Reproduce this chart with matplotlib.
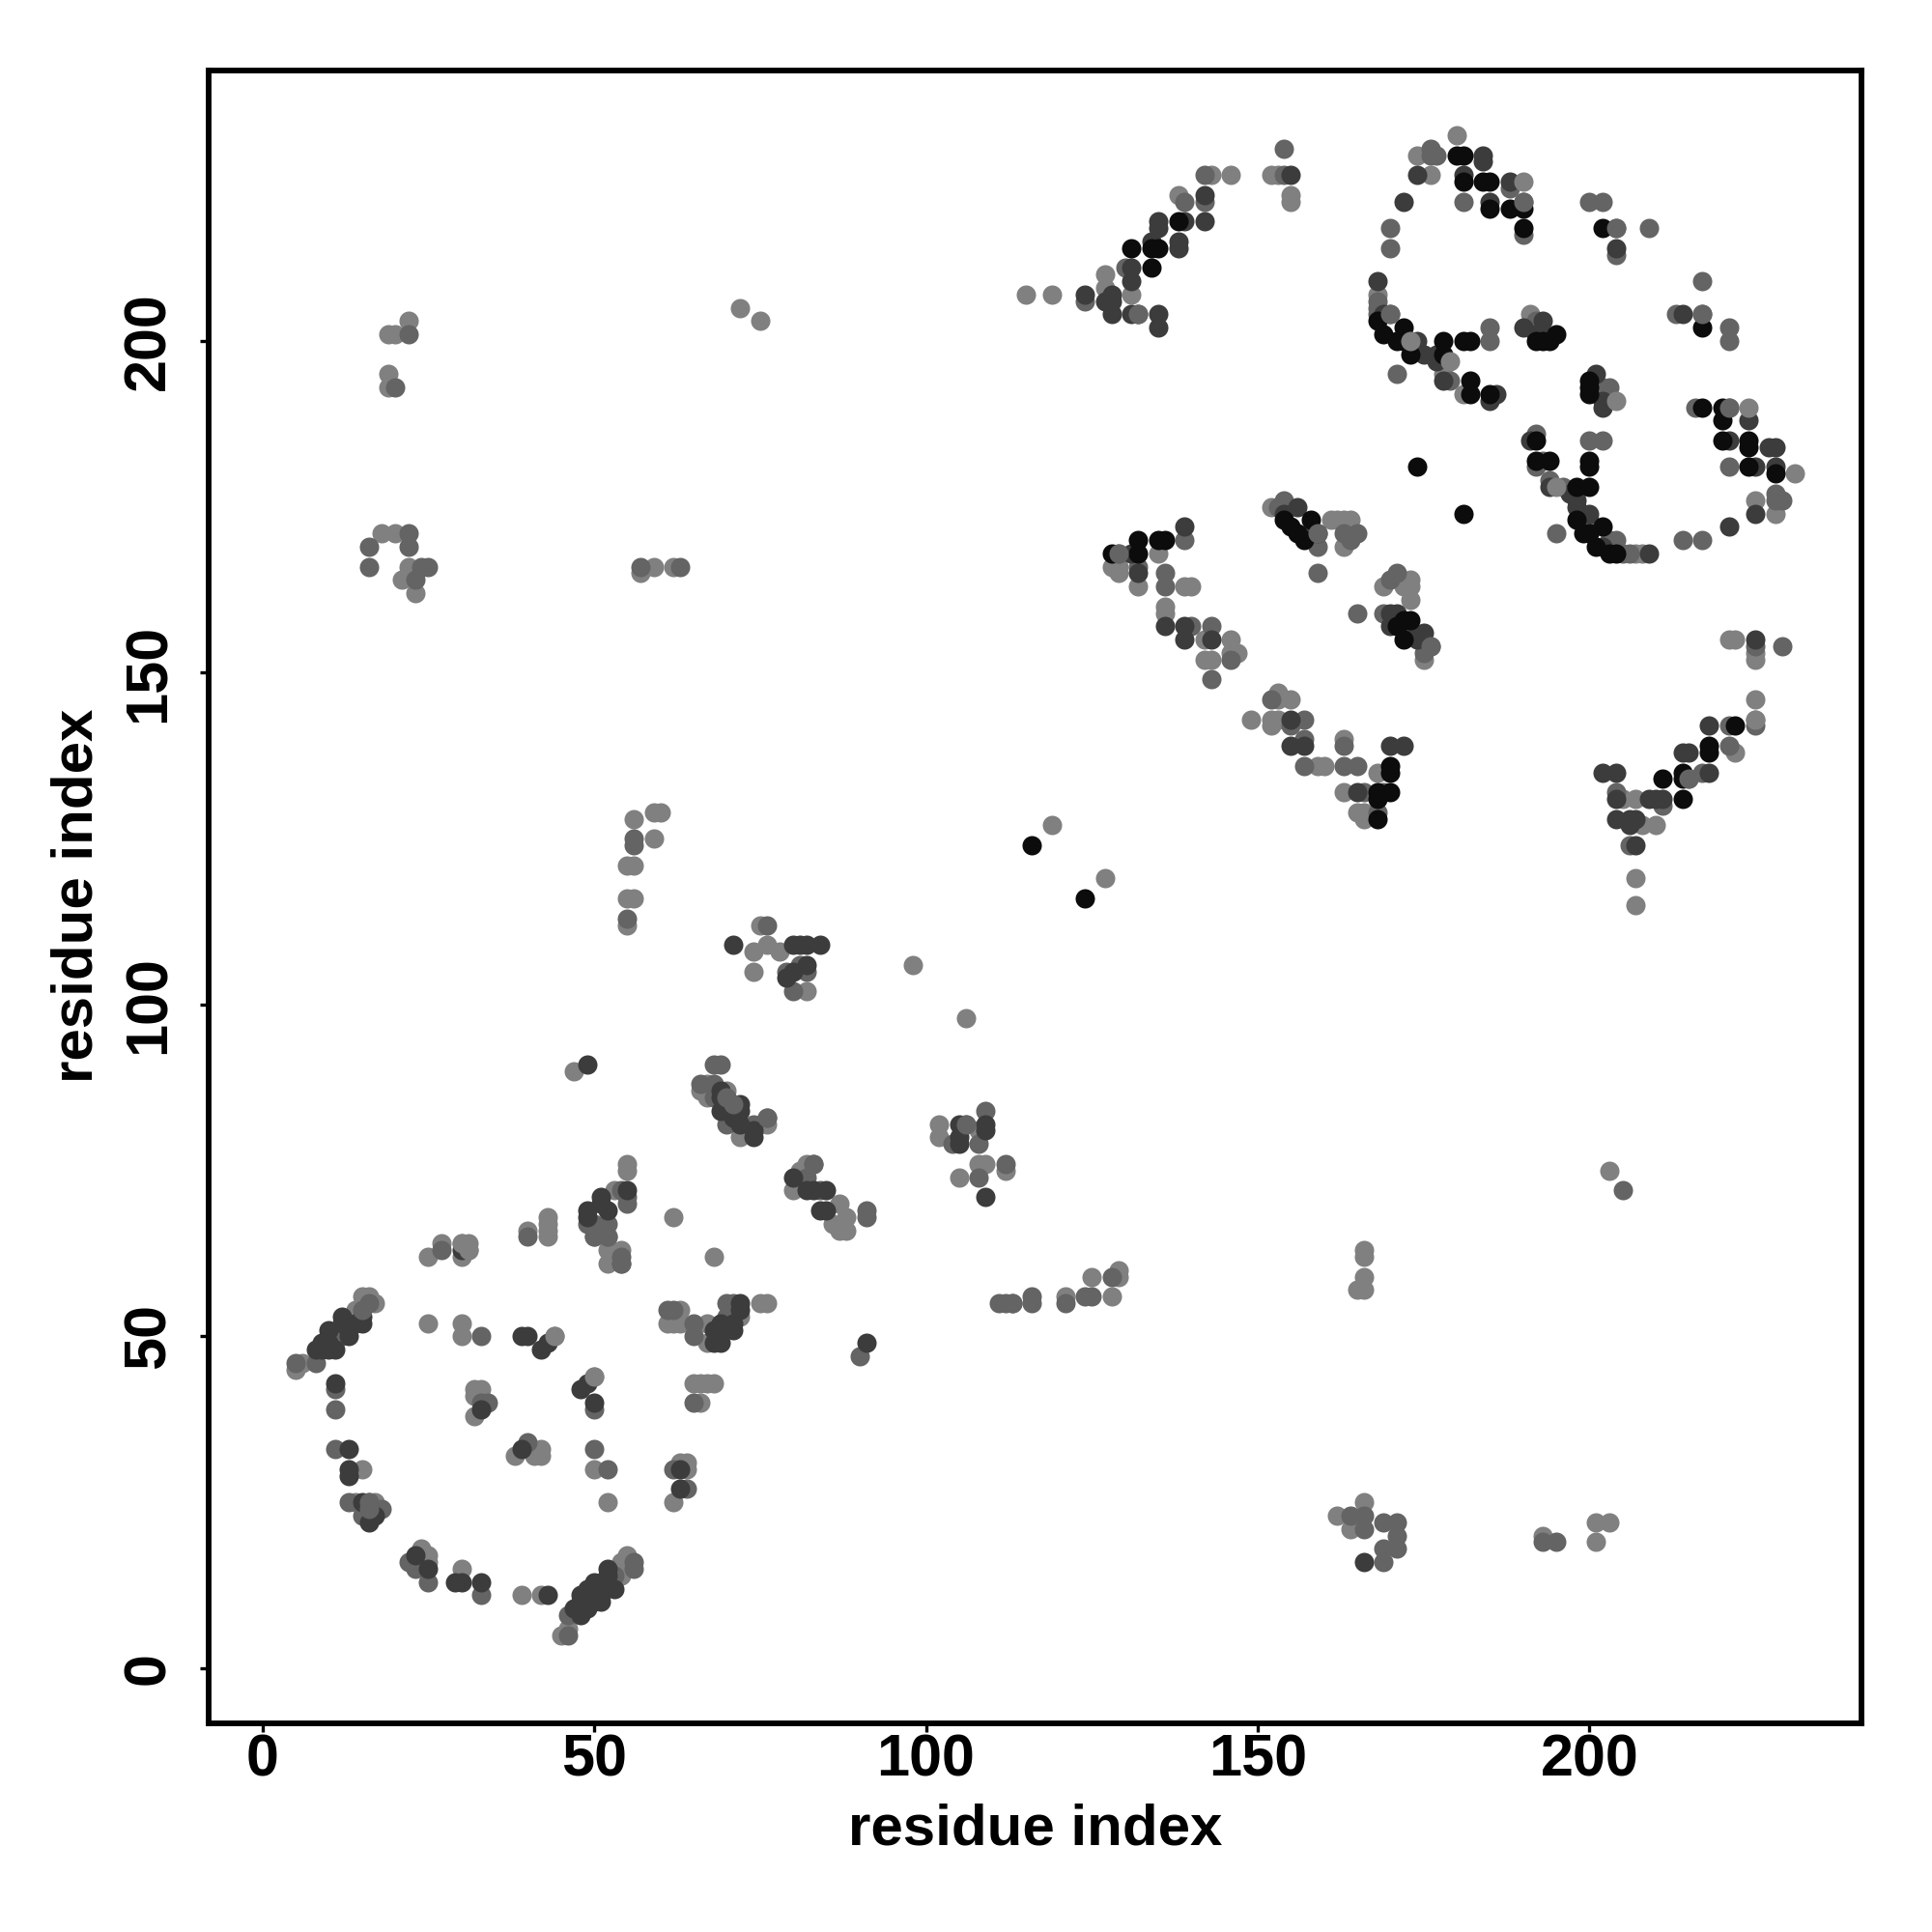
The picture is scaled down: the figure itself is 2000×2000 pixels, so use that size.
import matplotlib
matplotlib.use("Agg")
import matplotlib.pyplot as plt

tick_values = [0, 50, 100, 150, 200]
axis_label = "residue index"

contacts_light = [
 (115,207),(119,207),(127,210),(127,208),(131,207),(143,225),(146,225),(152,225),(153,225),(155,222),(155,221),
 (138,222),(168,207),(174,228),(180,231),(176,225),(191,204),(173,200),(178,195),(181,192),
 (225,176),(228,174),(231,180),(207,168),(208,168),
 (221,155),(222,155),(225,152),(225,153),(225,146),(225,143),(222,138),(208,127),(210,127),(207,119),(207,115),(205,131),(207,131),
 (135,168),(128,166),(129,166),(129,165),(132,163),(139,163),(140,163),(136,160),(136,159),(142,155),(142,152),(143,152),(146,155),(146,153),(147,153),
 (152,175),(161,173),(162,173),(163,173),(164,173),(163,169),(169,163),(173,164),(173,163),(172,163),(173,161),(175,152),
 (153,147),(153,146),(155,146),(152,143),(152,142),(149,143),(153,143),(159,136),(160,136),(163,140),(168,135),(163,132),(165,129),(166,129),(166,128),
 (127,119),(119,127),
 (25,62),(27,64),(30,64),(30,62),(31,64),(31,63),(40,66),(43,68),(43,67),(43,66),(43,65),(52,63),(52,61),(54,63),(62,68),
 (61,52),(62,52),(63,54),(63,52),(67,52),(67,49),(72,53),(75,55),(76,55),
 (5,45),(6,46),(14,54),(15,56),(16,56),(17,55),(15,30),(14,25),(17,25),
 (25,52),(30,52),(30,50),(44,50),(32,42),(33,42),(32,41),(32,38),(50,44),(38,32),(41,32),(42,33),(42,32),(50,30),(52,25),
 (63,31),(64,31),(64,30),(62,25),(24,18),(25,17),(25,16),(30,15),(39,11),(42,11),(45,5),(46,6),(54,14),(54,16),(55,17),
 (47,90),(106,98),(67,88),(66,87),(67,86),(70,87),(72,80),(75,82),(76,82),
 (82,76),(81,75),(80,72),(87,70),(86,67),(88,68),(88,66),(87,66),
 (102,82),(102,80),(108,81),(108,76),(109,76),(112,75),(105,74),(53,72),(55,76),(55,75),(68,62),
 (65,43),(66,43),(67,43),(68,43),(66,40),
 (19,201),(20,201),(22,203),(19,195),(19,193),(18,171),(20,171),(21,164),(22,166),(23,162),
 (57,165),(59,166),(62,166),(75,203),(72,205),
 (56,128),(59,129),(60,129),(59,125),(55,121),(56,121),(55,116),(56,116),(55,112),
 (75,112),(74,108),(76,109),(74,105),(78,108),(82,102),(98,106),
 (121,56),(125,59),(128,56),(129,60),(129,59),(166,63),(166,62),(166,59),(165,57),(166,57),(203,75),
 (166,25),(164,21),(162,23),(193,20),(201,22),(201,19),(203,22),
]
contacts_mid = [
 (124,206),(130,211),(142,221),(142,225),(139,221),(154,225),(154,229),(170,217),(170,214),(168,206),(168,205),(168,204),(170,204),(171,195),
 (176,229),(177,228),(176,228),(188,223),(190,221),(190,216),(181,221),(179,194),(200,221),(202,221),(204,217),(209,217),(204,213),(217,209),(213,204),(217,204),
 (221,202),(221,200),(185,202),(185,200),(192,203),(203,193),(202,193),(216,190),(221,190),(200,185),(202,185),
 (192,186),(193,182),(192,181),(221,181),(194,179),(196,178),(200,173),(195,171),(228,177),(229,176),(228,176),
 (203,170),(204,170),(205,168),(206,168),(214,170),(217,170),(225,154),(229,154),(225,142),(221,142),(221,139),(215,134),(217,135),(204,132),(211,130),(206,124),
 (129,168),(132,166),(136,165),(136,163),(139,170),(140,157),(143,157),(143,149),(146,152),
 (154,176),(153,175),(159,169),(163,171),(164,170),(165,171),(159,165),(171,165),(170,164),(165,159),(169,159),(175,153),(176,154),
 (152,146),(155,142),(157,143),(157,140),(157,136),(163,139),(163,136),(165,136),(166,132),(169,132),(168,129),
 (27,63),(40,65),(50,65),(52,65),(54,62),(54,61),(61,54),(62,54),(65,52),(65,50),(70,55),(71,55),(70,53),
 (5,46),(8,46),(12,50),(13,52),(16,55),(11,42),(11,39),(11,33),(13,25),(16,25),(18,24),(15,23),(16,24),
 (33,50),(34,40),(33,40),(40,34),(50,39),(50,33),(52,30),(62,30),(64,27),(22,16),(23,15),(25,13),(33,11),
 (46,5),(46,8),(51,12),(53,14),(56,16),(56,15),
 (68,91),(69,91),(66,88),(68,88),(68,86),(71,85),(70,82),(74,82),(76,83),
 (83,76),(82,74),(84,72),(91,69),(91,68),(104,79),(106,82),(109,84),(108,79),(112,76),(108,74),(112,55),(113,55),
 (54,72),(55,71),(55,70),(49,67),(50,65),(52,67),(52,65),(54,61),(50,67),
 (65,40),(90,47),
 (22,201),(20,193),(16,169),(22,171),(22,169),(23,164),(24,166),(25,166),(57,166),(63,166),
 (56,125),(56,124),(55,113),(76,112),(79,105),(82,105),(80,102),(81,106),
 (116,56),(116,55),(111,55),(113,55),(121,55),(124,56),(125,56),(128,59),(205,72),
 (164,23),(166,23),(166,21),(169,22),(171,22),(171,20),(171,18),(169,18),(169,16),(193,19),(195,19),
 (16,166),
]
contacts_dark = [
 (124,207),(127,206),(128,207),(128,206),(128,204),(131,211),(131,209),(131,204),(132,204),(134,215),(135,218),(135,217),(135,204),(135,202),
 (139,218),(138,215),(138,214),(142,222),(142,218),(155,225),(172,221),(168,209),(169,204),(174,200),(175,198),(177,198),(177,197),(178,194),
 (174,225),(181,225),(184,228),(184,227),(185,221),(188,224),(185,191),(186,192),(204,214),(214,204),(190,202),(193,203),(192,201),(193,201),
 (201,195),(202,191),(202,190),(224,188),(191,185),(221,185),(227,184),(228,184),(225,181),(228,181),(194,178),(197,177),(198,176),(198,175),(200,174),(225,174),(221,172),(202,169),(209,168),
 (225,155),(218,142),(214,138),(215,138),(218,135),(202,135),(204,135),(204,131),(209,131),(210,131),(211,131),(204,128),(206,128),(207,128),(206,127),(207,124),
 (131,168),(139,172),(132,165),(136,157),(139,157),(139,155),(143,155),(154,174),(156,175),(159,171),(158,171),
 (171,159),(170,159),(170,157),(173,156),(175,156),(174,155),(155,143),(155,139),(157,139),(170,139),(172,139),(165,132),
 (30,63),(49,69),(49,68),(51,71),(51,70),(52,69),(55,72),(68,51),(68,49),(69,49),(69,52),(71,51),(71,52),(72,55),(72,54),
 (8,48),(9,48),(10,48),(11,48),(10,51),(9,49),(10,49),(12,53),(12,52),(13,50),(15,52),(15,53),(14,52),(11,43),(13,33),(13,30),(13,29),(17,23),(16,22),(15,25),
 (39,50),(40,50),(42,48),(43,49),(33,39),(48,42),(49,43),(50,40),(39,33),(63,30),(63,27),(23,17),(25,15),(29,13),(30,13),(33,13),(43,11),
 (48,8),(48,11),(49,9),(50,10),(50,13),(51,10),(52,15),(53,12),(49,11),(51,13),(48,10),(47,9),
 (49,91),(69,87),(69,86),(69,84),(72,85),(72,84),(71,83),(74,80),(74,81),
 (80,74),(82,72),(85,72),(84,69),(105,82),(105,80),(105,79),(109,82),(109,81),(109,71),(91,49),
 (71,109),(80,109),(81,109),(82,109),(84,109),(80,105),(79,104),(82,106),(166,16),
]
contacts_black = [
 (131,214),(134,214),(135,214),(134,211),(138,218),(168,203),(169,201),(172,202),(171,200),(173,198),(178,200),(178,198),
 (180,228),(181,228),(181,224),(184,224),(185,224),(185,220),(188,220),(190,220),(190,217),(182,194),(182,192),(185,192),
 (202,217),(217,202),(192,200),(193,200),(194,200),(195,201),(181,200),(182,200),(172,200),
 (200,194),(200,193),(200,192),(217,190),(220,190),(220,188),(192,185),(220,185),(224,185),(224,184),
 (192,182),(194,182),(200,182),(200,181),(174,181),(224,181),(228,180),(198,178),(200,178),(198,173),(181,174),(202,172),
 (199,171),(200,171),(201,169),(203,168),(204,168),(222,142),(218,139),(218,138),(214,135),(214,134),(211,134),(214,131),
 (128,168),(132,170),(132,168),(135,170),(136,170),(154,173),(155,172),(158,173),(157,170),(156,171),
 (173,158),(172,158),(171,157),(172,155),(170,136),(170,135),(168,132),(168,131),(170,132),(168,128),
 (116,124),(124,116),
]
overlay_dark = [(70,84),(72,82),(83,72),(85,69),(69,51),(51,11),(49,12),(52,14)]
overlay_light = [(179,197),(190,224),(224,190),(204,191),(195,178),(173,200),(225,143),(50,44),(44,50),(30,64),(31,63)]
overlay_mid = [(132,204),(190,221),(221,190),(217,204),(204,217),(215,134),(176,154),(170,204),(129,168),(159,171),(16,25),(16,24),(15,54),(70,86),(71,85),(76,83),(83,76),(106,82)]

shades = {"light": "#808080", "mid": "#646464", "dark": "#3c3c3c", "black": "#0c0c0c"}

plt.rcParams["font.family"] = ["Liberation Sans", "DejaVu Sans"]
plt.rcParams["font.weight"] = "bold"

fig = plt.figure(figsize=(10, 10), dpi=200)
ax = fig.add_axes([216/2000, 1 - 1784/2000, (1927-216)/2000, (1784-73)/2000])

layers = [(contacts_light, "light"), (contacts_mid, "mid"), (contacts_dark, "dark"),
          (contacts_black, "black"), (overlay_dark, "dark"), (overlay_mid, "mid"), (overlay_light, "light")]
for pts, name in layers:
    xs, ys = zip(*pts)
    ax.scatter(xs, ys, s=52, c=shades[name], linewidths=0, zorder=3)

ax.set_xlim(-8.1, 241)
ax.set_ylim(-8.3, 240.75)
ax.set_xticks(tick_values)
ax.set_yticks(tick_values)
ax.tick_params(axis="both", length=3.2, width=1.2, labelsize=22)
ax.tick_params(axis="x", pad=0.5)
ax.tick_params(axis="y", pad=8.5)
for lab in ax.get_yticklabels():
    lab.set_rotation(90)
    lab.set_va("center")
for s in ax.spines.values():
    s.set_linewidth(2.1)
fig.text((216+1927)/2/2000, 1 - 1894/2000, axis_label, ha="center", va="center", fontsize=21.6, fontweight="bold")
fig.text(80/2000, 1 - 927/2000, axis_label, ha="center", va="center", rotation=90, fontsize=21.6, fontweight="bold")
fig.savefig("out.png", dpi=200, facecolor="white")
